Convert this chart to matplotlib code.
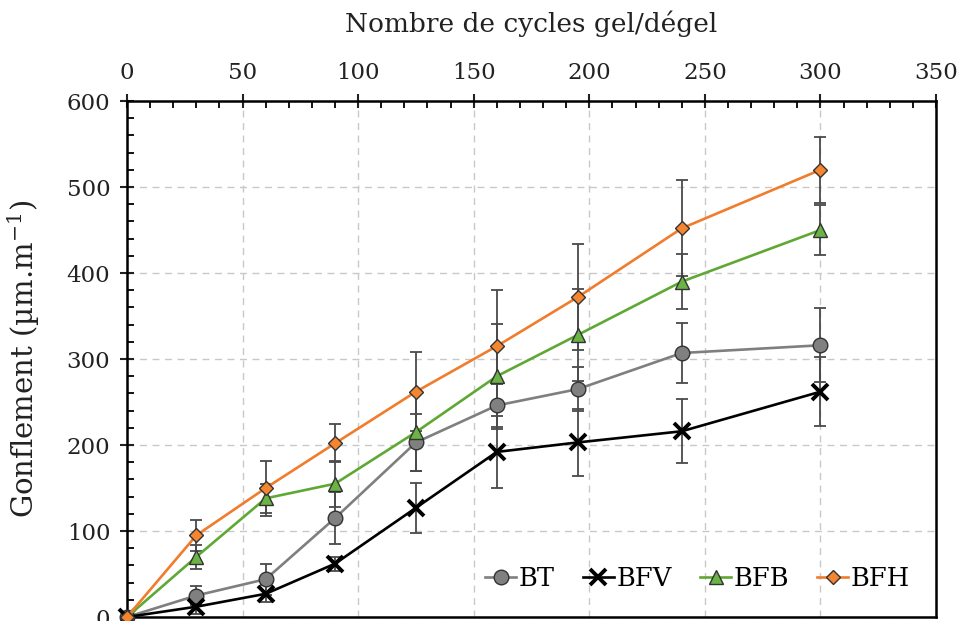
import matplotlib
matplotlib.use("Agg")
import matplotlib.pyplot as plt
from matplotlib.ticker import MultipleLocator

plt.rcParams["font.family"] = ["DejaVu Serif"]
plt.rcParams["mathtext.fontset"] = "dejavuserif"

cycles = [0, 30, 60, 90, 125, 160, 195, 240, 300]

bt = [0, 25, 44, 115, 203, 246, 265, 307, 316]
bt_err = [0, 11, 18, 30, 33, 25, 26, 35, 43]

bfv = [0, 12, 27, 62, 127, 192, 203, 216, 262]
bfv_err = [0, 8, 10, 8, 29, 42, 39, 37, 40]

bfb = [0, 70, 138, 155, 215, 280, 328, 390, 450]
bfb_err = [0, 14, 17, 27, 45, 61, 53, 32, 29]

bfh = [0, 95, 150, 202, 262, 315, 372, 452, 520]
bfh_err = [0, 18, 32, 22, 46, 65, 62, 56, 38]

series = [
    ("BT", bt, bt_err, "#7f7f7f", "o", "#808080", 10.5, 1.0),
    ("BFV", bfv, bfv_err, "black", "x", "black", 11, 2.8),
    ("BFB", bfb, bfb_err, "#5fa833", "^", "#6ab344", 9.5, 1.0),
    ("BFH", bfh, bfh_err, "#f07c2c", "D", "#f5862f", 7.5, 1.0),
]

fig = plt.figure(figsize=(9.6, 6.21), dpi=100)
ax = fig.add_axes([0.1323, 0.0064, 0.8427, 0.8309])

for name, vals, errs, lc, mk, fc, ms, mew in series:
    ax.errorbar(cycles, vals, yerr=errs, fmt="none", ecolor="#4a4a4a",
                elinewidth=1.3, capsize=4, capthick=1.3, zorder=2)
for name, vals, errs, lc, mk, fc, ms, mew in series:
    ec = "black" if mk == "x" else "#333333"
    ax.plot(cycles, vals, color=lc, lw=1.9, marker=mk, markersize=ms,
            markerfacecolor=fc, markeredgecolor=ec, markeredgewidth=mew,
            label=name, zorder=3, clip_on=False)

ax.set_xlim(0, 350)
ax.set_ylim(0, 600)
ax.xaxis.set_major_locator(MultipleLocator(50))
ax.xaxis.set_minor_locator(MultipleLocator(10))
ax.yaxis.set_major_locator(MultipleLocator(100))
ax.yaxis.set_minor_locator(MultipleLocator(20))

ax.xaxis.tick_top()
ax.xaxis.set_label_position("top")
ax.tick_params(axis="both", which="major", direction="inout", length=10, width=1.5,
               labelsize=16.5, pad=7, colors="#222222")
ax.tick_params(axis="both", which="minor", direction="in", length=5, width=1.3)
ax.tick_params(axis="x", which="both", bottom=False)
ax.tick_params(axis="y", which="both", right=False)

for sp in ax.spines.values():
    sp.set_linewidth(1.8)

ax.grid(True, which="major", ls=(0, (5, 4)), color="#c8c8c8", lw=1.0)
ax.set_axisbelow(True)

ax.set_xlabel("Nombre de cycles gel/dégel", fontsize=19, labelpad=22, color="#222222")
ax.set_ylabel(r"Gonflement (µm.m$^{-1}$)", fontsize=21, labelpad=18, color="#222222")

ax.legend(loc="lower right", bbox_to_anchor=(0.99, 0.015), ncol=4, frameon=False,
          fontsize=18.5, handlelength=1.2, handletextpad=0.1, columnspacing=1.1,
          borderpad=0.2)

fig.savefig("out.png", dpi=100)
